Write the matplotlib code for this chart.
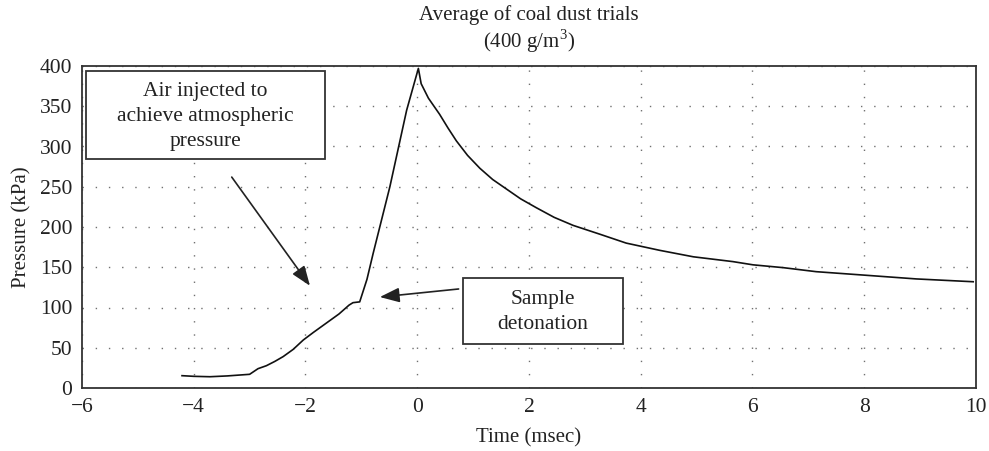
import numpy as np
import matplotlib
matplotlib.use('Agg')
import matplotlib.pyplot as plt
from matplotlib.patches import Rectangle

plt.rcParams['font.family'] = ['Liberation Serif', 'DejaVu Serif']
plt.rcParams['mathtext.fontset'] = 'custom'
plt.rcParams['mathtext.rm'] = 'Liberation Serif'

# pressure trace
time_ms = [-4.21, -4.0, -3.71, -3.4, -3.0, -2.85, -2.70, -2.55, -2.40, -2.22, -2.04,
           -1.86, -1.68, -1.40, -1.22, -1.15, -1.03, -0.9, -0.79, -0.49, -0.19,
           0.02, 0.07, 0.2, 0.40, 0.55, 0.70, 0.9, 1.12, 1.35, 1.60, 1.85, 2.13,
           2.45, 2.79, 3.27, 3.74, 4.34, 4.94, 5.65, 6.01, 6.55, 7.14, 8.04,
           8.93, 9.95]
pressure = [15.3, 14.5, 14, 15, 17, 24, 27.7, 33, 39, 48, 59.6,
            69, 78, 92, 103, 106, 107, 135, 167, 250, 345,
            397, 378, 360, 340, 323, 307, 289, 273, 259, 247, 235, 224,
            212, 202, 191, 180, 171, 163, 157, 153, 149.5, 144.5, 140,
            135.5, 132]

fig = plt.figure(figsize=(9.89, 4.51), dpi=100)
ax = fig.add_axes([82/989, 1 - 388/451, (976 - 82)/989, (388 - 66)/451])

ax.plot(time_ms, pressure, color='#111111', linewidth=1.2)
ax.set_xlim(-6, 10)
ax.set_ylim(0, 400)
ax.set_xticks(np.arange(-6, 11, 2))
ax.set_yticks(np.arange(0, 401, 50))
ax.grid(True, color='#707070', linestyle=(0, (1, 8.5)), linewidth=1.0)
ax.tick_params(length=0, labelsize=15.5, pad=7, colors='#222222')
for s in ax.spines.values():
    s.set_color('#333333')
    s.set_linewidth(1.3)

ax.set_xlabel('Time (msec)', fontsize=15, labelpad=8, color='#222222')
ax.set_ylabel('Pressure (kPa)', fontsize=15, labelpad=6, color='#222222')
fig.text(529/989, 1 - 15/451, 'Average of coal dust trials', fontsize=15,
         ha='center', va='center', color='#222222')
fig.text(529/989, 1 - 41/451, '(400 g/m$^3$)', fontsize=15,
         ha='center', va='center', color='#222222')

# text boxes
ax.add_patch(Rectangle((0.0045, 0.711), 0.2675, 0.273, transform=ax.transAxes,
                       facecolor='white', edgecolor='#333333', linewidth=1.3, zorder=5))
ax.text(0.138, 0.844, 'Air injected to\nachieve atmospheric\npressure',
        transform=ax.transAxes, ha='center', va='center', fontsize=15.5,
        linespacing=1.42, color='#222222', zorder=6)
ax.add_patch(Rectangle((0.426, 0.137), 0.179, 0.205, transform=ax.transAxes,
                       facecolor='white', edgecolor='#333333', linewidth=1.3, zorder=5))
ax.text(0.5155, 0.235, 'Sample\ndetonation',
        transform=ax.transAxes, ha='center', va='center', fontsize=15.5,
        linespacing=1.42, color='#222222', zorder=6)

arrow = dict(arrowstyle='-|>,head_length=1.2,head_width=0.45',
             color='#222222', linewidth=1.2, shrinkA=0, shrinkB=0)
ax.annotate('', xy=(-1.92, 127), xytext=(-3.32, 262), arrowprops=arrow)
ax.annotate('', xy=(-0.67, 113), xytext=(0.74, 123), arrowprops=arrow)

fig.savefig('out.png', dpi=100)
